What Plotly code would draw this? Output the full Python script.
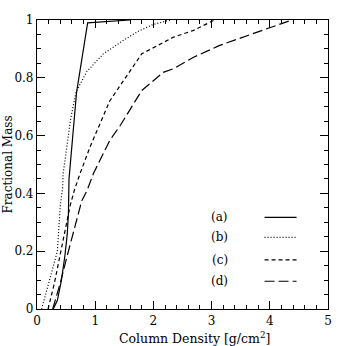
import plotly.graph_objects as go

# curve data (column density g/cm^2, fractional mass)
a_x = [0.28, 0.35, 0.42, 0.48, 0.52, 0.54, 0.55, 0.60, 0.68, 0.87, 1.05, 1.6]
a_y = [0.0, 0.03, 0.10, 0.185, 0.26, 0.33, 0.45, 0.56, 0.75, 0.99, 0.993, 1.0]

b_x = [0.08, 0.22, 0.35, 0.40, 0.44, 0.45, 0.51, 0.58, 0.67, 0.85, 1.14, 1.48, 1.74, 2.0, 2.3]
b_y = [0.0, 0.10, 0.20, 0.358, 0.42, 0.469, 0.56, 0.66, 0.75, 0.82, 0.883, 0.929, 0.961, 0.985, 1.0]

c_x = [0.19, 0.30, 0.40, 0.57, 0.64, 0.74, 0.91, 1.17, 1.25, 1.8, 2.17, 2.34, 2.69, 3.05]
c_y = [0.0, 0.09, 0.19, 0.358, 0.41, 0.469, 0.56, 0.687, 0.72, 0.883, 0.923, 0.94, 0.964, 1.0]

d_x = [0.27, 0.40, 0.52, 0.77, 0.86, 0.97, 1.25, 1.43, 1.8, 2.17, 2.34, 2.69, 3.14, 3.29, 4.38]
d_y = [0.0, 0.09, 0.185, 0.375, 0.41, 0.469, 0.583, 0.635, 0.756, 0.819, 0.831, 0.871, 0.912, 0.923, 1.0]

labels = ["(a)", "(b)", "(c)", "(d)"]
legend_y = [0.317, 0.248, 0.170, 0.096]

FONT = "DejaVu Serif"
dashes = ["solid", "1px,2px", "4px,3px", "10px,4px"]

fig = go.Figure()
for xs, ys, dash in zip([a_x, b_x, c_x, d_x], [a_y, b_y, c_y, d_y], dashes):
    fig.add_trace(go.Scatter(x=xs, y=ys, mode="lines",
                             line=dict(color="black", width=1.2, dash=dash),
                             showlegend=False, hoverinfo="skip"))

# hand-made legend in the lower right
for lab, ly, dash in zip(labels, legend_y, dashes):
    fig.add_trace(go.Scatter(x=[3.91, 4.46], y=[ly, ly], mode="lines",
                             line=dict(color="black", width=1.2, dash=dash),
                             showlegend=False, hoverinfo="skip"))
    fig.add_annotation(x=3.14, y=ly, text=lab, showarrow=False,
                       font=dict(family=FONT, size=12, color="black"))

# axis titles as annotations so they sit exactly where the reference has them
fig.add_annotation(x=0.5, y=0, xref="paper", yref="paper", yshift=-29, xshift=12,
                   xanchor="center", yanchor="middle",
                   text="Column Density [g/cm<sup>2</sup>]", showarrow=False,
                   font=dict(family=FONT, size=12.5, color="black"))
fig.add_annotation(x=0, y=0.5, xref="paper", yref="paper", xshift=-30,
                   xanchor="center", yanchor="middle",
                   text="Fractional Mass", textangle=-90, showarrow=False,
                   font=dict(family=FONT, size=12, color="black"))

axis_common = dict(
    showgrid=False, zeroline=False, showline=True, linecolor="black", linewidth=1.2,
    mirror="allticks", ticks="inside", ticklen=8, tickwidth=1, tickcolor="black",
    tickfont=dict(family=FONT, size=12, color="black"), automargin=False,
)

fig.update_xaxes(range=[0, 5], dtick=1, tick0=0,
                 minor=dict(dtick=0.2, ticks="inside", ticklen=4, tickwidth=1,
                            tickcolor="black", showgrid=False),
                 **axis_common)
fig.update_yaxes(range=[0, 1], dtick=0.2, tick0=0,
                 minor=dict(dtick=0.05, ticks="inside", ticklen=4, tickwidth=1,
                            tickcolor="black", showgrid=False),
                 **axis_common)

fig.update_layout(width=346, height=346, margin=dict(l=37, r=18, t=20, b=37),
                  plot_bgcolor="white", paper_bgcolor="white")

# drop the page's default body margin so the figure fills the window
fig.write_html("out.html", config={"displayModeBar": False},
               post_script="document.body.style.margin='0';")
